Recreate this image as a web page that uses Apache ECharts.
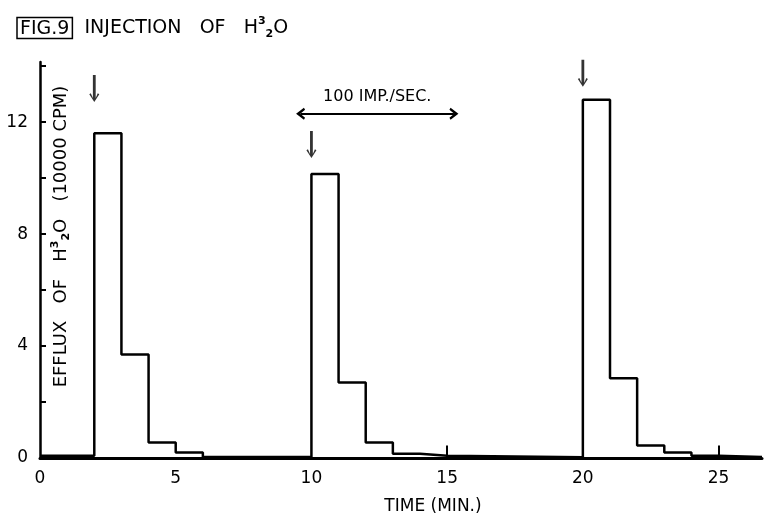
<!DOCTYPE html>
<html><head><meta charset="utf-8">
<script src="https://cdn.jsdelivr.net/npm/echarts@6/dist/echarts.min.js"></script>
<style>html,body{margin:0;padding:0;background:#fff}#c{width:769px;height:514px}</style>
</head><body><div id="c"></div>
<script>
// ---- data ----
const timeMin      = [0,    2,    3,   4,    5,   6,    10,    11,  12,   13,   14,   15,   20,   21,   22,   23,  24,   25,   26.6];
const effluxValues = [0.08, 11.6, 3.7, 0.55, 0.2, 0.04, 10.15, 2.7, 0.55, 0.15, 0.08, 0.03, 12.8, 2.85, 0.45, 0.2, 0.08, 0.04, 0.04];
const injectionTimes = [2, 10, 20];
const injectionArrowY = [13.2, 11.2, 13.75];
const markTimes = [15, 25];
const markHeights = [0.45, 0.45];
const stimStart = 9.6, stimEnd = 15.25, stimLevel = 12.3;
const stimLabel = '100 IMP./SEC.';
const xTickLabels = [0, 5, 10, 15, 20, 25];
const yTickLabels = [0, 4, 8, 12];

const FONT = 'DejaVu Sans';
const INK = '#000';

const stepData = timeMin.map((t, i) => [t, effluxValues[i]]);
const markLines = markTimes.map((t, i) => [{coord: [t, 0]}, {coord: [t, markHeights[i]]}]);
const arrowData = injectionTimes.map((t, i) => [t, injectionArrowY[i]]);

const downArrow = 'path://M3.6 0 L6.4 0 L6.4 23 L8.5 18.2 L10 19.2 L5 27 L0 19.2 L1.5 18.2 L3.6 23 Z';
const chevronUp = 'path://M5 0 L10 7.5 L8.3 8.6 L5 4 L1.7 8.6 L0 7.5 Z';

const chart = echarts.init(document.getElementById('c'), null, {renderer: 'canvas'});
chart.setOption({
  animation: false,
  backgroundColor: '#fff',
  title: {
    left: 12, top: 11,
    text: '{box|FIG.9}  INJECTION   OF   {h|H}{s|3}{u|2}{h|O}',
    textStyle: {
      fontFamily: FONT, fontSize: 19, fontWeight: 'normal', color: INK,
      rich: {
        box: {fontFamily: FONT, fontSize: 19, color: INK, borderColor: INK, borderWidth: 1.5, padding: [2, 3, 0, 3]},
        h: {fontFamily: FONT, fontSize: 19, color: INK},
        s: {fontFamily: FONT, fontSize: 11, fontWeight: 'bold', color: INK, verticalAlign: 'top', lineHeight: 24},
        u: {fontFamily: FONT, fontSize: 11, fontWeight: 'bold', color: INK, verticalAlign: 'bottom', lineHeight: 16}
      }
    }
  },
  grid: {left: 40, right: 7, top: 62, bottom: 56, containLabel: false, outerBoundsMode: 'none'},
  xAxis: {
    type: 'value', min: 0, max: 26.6, interval: 5,
    axisLine: {lineStyle: {color: INK, width: 3}},
    axisTick: {show: false},
    splitLine: {show: false},
    axisLabel: {
      color: INK, fontFamily: FONT, fontSize: 17, margin: 12, showMaxLabel: false,
      formatter: v => xTickLabels.includes(v) ? String(v) : ''
    },
    name: 'TIME (MIN.)', nameLocation: 'middle', nameGap: 40,
    nameTextStyle: {color: INK, fontFamily: FONT, fontSize: 17, padding: [0, 0, 0, 64]}
  },
  yAxis: {
    type: 'value', min: 0, max: 14.15, interval: 2,
    axisLine: {show: true, lineStyle: {color: INK, width: 2.5}},
    axisTick: {show: true, inside: true, length: 6, lineStyle: {color: INK, width: 2}},
    splitLine: {show: false},
    axisLabel: {
      color: INK, fontFamily: FONT, fontSize: 17, margin: 12, showMaxLabel: false,
      formatter: v => yTickLabels.includes(v) ? String(v) : ''
    },
    name: 'EFFLUX   OF   {h|H}{s|3}{u|2}{h|O}   (10000 CPM)',
    nameLocation: 'middle', nameGap: -32, nameRotate: 90, nameMoveOverlap: false,
    nameTextStyle: {
      color: INK, fontFamily: FONT, fontSize: 18, padding: [0, 0, 0, 47],
      rich: {
        h: {fontFamily: FONT, fontSize: 18, color: INK},
        s: {fontFamily: FONT, fontSize: 11, fontWeight: 'bold', color: INK, verticalAlign: 'top', lineHeight: 22},
        u: {fontFamily: FONT, fontSize: 11, fontWeight: 'bold', color: INK, verticalAlign: 'bottom', lineHeight: 15}
      }
    }
  },
  series: [
    {
      name: 'efflux', type: 'line', step: 'end', data: stepData,
      symbol: 'none', lineStyle: {color: INK, width: 2.5}, z: 3
    },
    {
      name: 'marks', type: 'line', data: [],
      markLine: {
        silent: true, animation: false, symbol: 'none',
        lineStyle: {color: INK, width: 2, type: 'solid'},
        label: {show: false},
        data: markLines
      }
    },
    {
      name: 'injection', type: 'scatter', data: arrowData,
      symbol: downArrow, symbolSize: [10, 27], itemStyle: {color: INK}
    },
    {
      name: 'stimulation', type: 'line', data: [],
      markLine: {
        silent: true, animation: false,
        symbol: [chevronUp, chevronUp], symbolSize: [12, 9],
        lineStyle: {color: INK, width: 2, type: 'solid'},
        label: {show: true, position: 'middle', formatter: stimLabel, color: INK, fontFamily: FONT, fontSize: 16, distance: 9},
        data: [[{coord: [stimStart, stimLevel]}, {coord: [stimEnd, stimLevel]}]]
      }
    }
  ]
});
</script>
</body></html>
